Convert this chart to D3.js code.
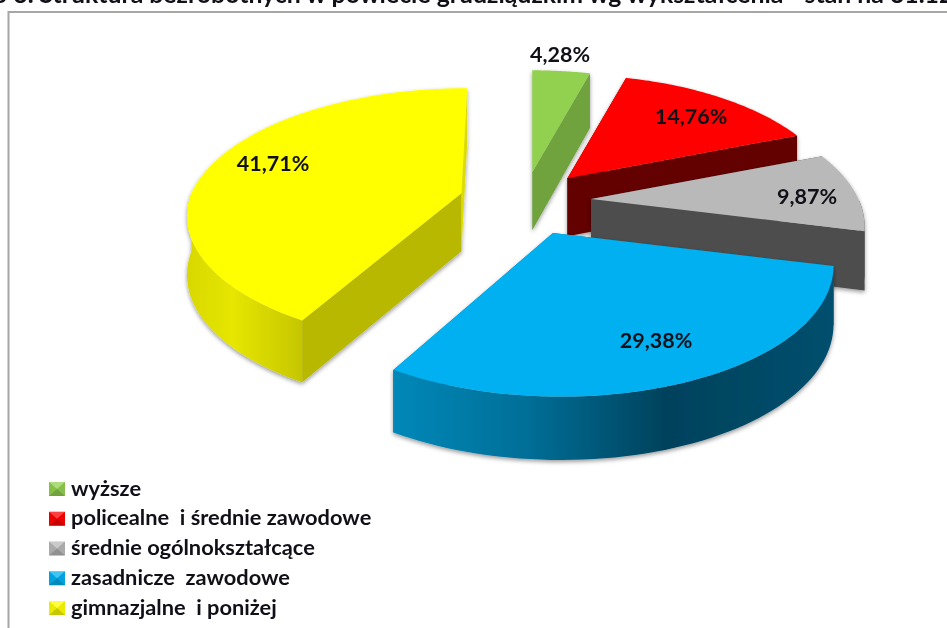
<!DOCTYPE html>
<html>
<head>
<meta charset="utf-8">
<script src="https://cdn.jsdelivr.net/npm/d3@7"></script>
<style>
    html, body { margin: 0; padding: 0; background: #fff; overflow: hidden; }
    svg { display: block; filter: blur(0.4px); }
    text { font-family: Lato, sans-serif; font-weight: 700; fill: #101018; white-space: pre; }
</style>
</head>
<body>
<script>
const categories = ["wyższe", "policealne  i średnie zawodowe", "średnie ogólnokształcące", "zasadnicze  zawodowe", "gimnazjalne  i poniżej"];
const shares = [4.28, 14.76, 9.87, 29.38, 41.71];
const shareLabels = ["4,28%", "14,76%", "9,87%", "29,38%", "41,71%"];
const title = "o 3. Struktura bezrobotnych w powiecie grudziądzkim wg wykształcenia - stan na 31.12.";

const width = 947,
    height = 628;

//colors per slice
const topColors = ["#92d050", "#ff0000", "#b9b9b9", "#00b0f0", "#ffff00"];
const wallColors = ["#6fa23e", "#640000", "#4d4d4d", "#006f96", "#b8b800"];
const rimStops = [
    null,
    null,
    [[0, "#4d4d4d"], [1, "#4d4d4d"]],
    [[0, "#0088b8"], [0.3, "#006f98"], [0.62, "#00425c"], [1, "#004f6e"]],
    [[0, "#d8d800"], [0.4, "#e6e600"], [1, "#c6c600"]]
];

//hand fitted per slice, the original has a skewed perspective
const explode = [0.24, 0.25, 0.25, 0.26, 0.243];
const sliceScale = [0.97, 0.985, 0.99, 1.01, 1];
const slicePerspective = [0.213, 0.213, 0.213, 0.213, 0.18];
const shearBack = [0, 0, 0, 0, 0.055];
const shearFront = [0, 0, 0, 0.05, 0];
const labelPos = [[560, 56], [691, 118], [807, 198], [656, 342], [273, 165]];

//pie geometry, perspective disc seen from the front
const centerX = 524,
    centerY = 201,
    radiusX = 270,
    backRadiusY = 105,
    perspective = 0.213;

function project(theta, r, p) {
    const x = Math.sin(theta) * r,
        y = Math.cos(theta) * r,
        s = 1 / (1 + p * y);
    return { x: x * radiusX * s, y: -y * backRadiusY * (1 + p) * s, s: s };
}

function depth(s) {
    return 38 + 20 * s;
}

const svg = d3.select('body').append('svg')
    .attr('width', width)
    .attr('height', height);

const defs = svg.append('defs');

const shadow = defs.append('filter')
    .attr('id', 'shadow')
    .attr('x', '-10%').attr('y', '-10%')
    .attr('width', '120%').attr('height', '120%');
shadow.append('feDropShadow')
    .attr('dx', 0)
    .attr('dy', 2)
    .attr('stdDeviation', 2)
    .attr('flood-color', '#000')
    .attr('flood-opacity', 0.4);

//title is cut by the top of the picture
svg.append('text')
    .attr('x', -7)
    .attr('y', 3)
    .style('font-size', '24.8px')
    .text(title);

//chart frame
svg.append('path')
    .attr('d', `M8.5,${height}V12H${width}`)
    .attr('fill', 'none')
    .attr('stroke', '#a6a6a6')
    .attr('stroke-width', 2);

const pie = d3.pie().sort(null).startAngle(0).endAngle(2 * Math.PI);
const arcs = pie(shares);
const line = d3.line().x(d => d[0]).y(d => d[1]);

function drawSlice(arc, i) {
    const mid = (arc.startAngle + arc.endAngle) / 2;
    const off = project(mid, explode[i], perspective);
    const ax = centerX + off.x,
        ay = centerY + off.y;

    const rimPoint = t => {
        const p = project(t, 1, slicePerspective[i]);
        const px = p.x * sliceScale[i],
            py = p.y * sliceScale[i];
        const sheared = py < 0 ? px - shearBack[i] * py : px + shearFront[i] * py;
        return { x: ax + sheared, y: ay + py, d: depth(p.s) };
    };
    const apexDepth = depth(1);
    const angles = d3.range(0, 61).map(k => arc.startAngle + (arc.endAngle - arc.startAngle) * k / 60);
    const rim = angles.map(rimPoint);

    const g = svg.append('g').attr('filter', 'url(#shadow)');

    const wall = (p, color) => g.append('path')
        .attr('d', line([[ax, ay], [p.x, p.y], [p.x, p.y + p.d], [ax, ay + apexDepth]]) + 'Z')
        .attr('fill', color);

    wall(rim[0], wallColors[i]);
    //the wall at the top of the circle is only a sliver on the yellow slice
    wall(rim[rim.length - 1], arc.endAngle > 6 ? '#dcdc00' : wallColors[i]);

    //outer rim, only the front half can be seen
    const front = rim.filter((p, k) => angles[k] >= Math.PI / 2 && angles[k] <= 3 * Math.PI / 2);
    if (front.length > 1 && rimStops[i]) {
        const id = 'rim' + i;
        const grad = defs.append('linearGradient').attr('id', id);
        grad.selectAll('stop')
            .data(rimStops[i])
            .enter()
            .append('stop')
            .attr('offset', d => d[0])
            .attr('stop-color', d => d[1]);

        const outline = front.map(p => [p.x, p.y])
            .concat(front.slice().reverse().map(p => [p.x, p.y + p.d]));
        g.append('path')
            .attr('d', line(outline) + 'Z')
            .attr('fill', `url(#${id})`);
    }

    //top face
    g.append('path')
        .attr('d', line([[ax, ay]].concat(rim.map(p => [p.x, p.y]))) + 'Z')
        .attr('fill', topColors[i]);
}

//back to front
[0, 1, 2, 4, 3].forEach(i => drawSlice(arcs[i], i));

//labels
svg.selectAll('text.share')
    .data(shareLabels)
    .enter()
    .append('text')
    .attr('class', 'share')
    .attr('x', (d, i) => labelPos[i][0])
    .attr('y', (d, i) => labelPos[i][1])
    .attr('text-anchor', 'middle')
    .attr('dominant-baseline', 'middle')
    .style('font-size', '21.5px')
    .text(d => d);

//legend
const legendY = d3.scalePoint()
    .domain(categories)
    .range([490, 609]);

const legend = svg.selectAll('g.legend')
    .data(categories)
    .enter()
    .append('g')
    .attr('class', 'legend')
    .attr('transform', d => `translate(49,${legendY(d)})`);

legend.append('rect')
    .attr('x', 0)
    .attr('y', -8)
    .attr('width', 16)
    .attr('height', 14)
    .attr('fill', (d, i) => topColors[i]);

//bevel of the legend keys
const bevel = [
    { pts: [[0, -8], [16, -8], [8, -1]], fill: '#fff', op: 0.25 },
    { pts: [[0, 6], [16, 6], [8, -1]], fill: '#000', op: 0.22 },
    { pts: [[0, -8], [0, 6], [8, -1]], fill: '#000', op: 0.08 },
    { pts: [[16, -8], [16, 6], [8, -1]], fill: '#000', op: 0.08 }
];
bevel.forEach(b => {
    legend.append('path')
        .attr('d', line(b.pts) + 'Z')
        .attr('fill', b.fill)
        .attr('fill-opacity', b.op);
});

legend.append('text')
    .attr('x', 22)
    .attr('y', 0)
    .attr('dominant-baseline', 'middle')
    .style('font-size', '21.8px')
    .text(d => d);
</script>
</body>
</html>
